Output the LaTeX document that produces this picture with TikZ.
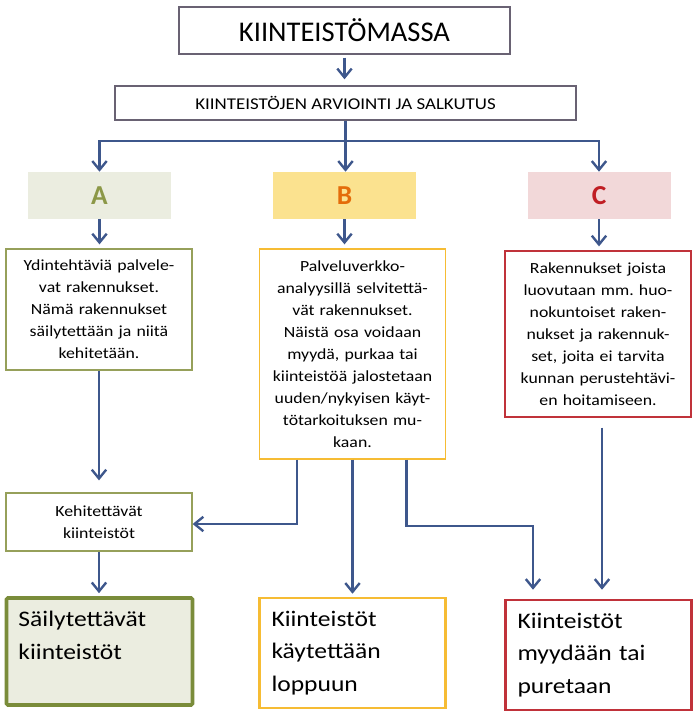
\documentclass[tikz,border=0pt]{standalone}
\usepackage{fontspec}
\setmainfont{Carlito}[FakeStretch=1.15]
\newfontfamily\headfont{Carlito}
\frenchspacing
\usetikzlibrary{arrows.meta,positioning}

\definecolor{flowblue}{RGB}{62,87,140}
\definecolor{framegray}{RGB}{105,98,115}
\definecolor{olivefill}{RGB}{235,237,224}
\definecolor{oliveline}{RGB}{150,160,90}
\definecolor{olivedark}{RGB}{122,140,58}
\definecolor{oliveletter}{RGB}{140,152,72}
\definecolor{goldfill}{RGB}{251,226,143}
\definecolor{goldline}{RGB}{246,188,52}
\definecolor{orangeletter}{RGB}{228,108,10}
\definecolor{rosefill}{RGB}{242,216,217}
\definecolor{redline}{RGB}{192,50,58}
\definecolor{redletter}{RGB}{192,30,36}

\begin{document}
\begin{tikzpicture}[
    topbox/.style={draw=framegray, line width=1pt, align=center},
    letterbox/.style={minimum width=3.575cm, minimum height=1.175cm, font=\headfont\fontsize{19.5}{22}\selectfont\bfseries},
    textbox/.style={line width=0.9pt, minimum width=4.65cm, inner xsep=0.15cm, text width=4.35cm, align=center, font=\fontsize{11}{15.65}\selectfont},
    endbox/.style={line width=1.8pt, minimum width=4.65cm, inner xsep=0.3cm, text width=4.05cm, align=left, font=\fontsize{15.8}{23.1}\selectfont},
    flow/.style={draw=flowblue, line width=1.7pt, -{Straight Barb[length=2.2mm,width=3.6mm]}}
]
    \useasboundingbox (0,0) rectangle (17.475,-17.85);

    % Top of the chart
    \node[topbox, minimum width=8.275cm, minimum height=1.175cm, font=\headfont\fontsize{20.3}{22}\selectfont] (mass) at (8.6125,-0.7625) {KIINTEISTÖMASSA};
    \node[topbox, minimum width=11.525cm, minimum height=0.85cm, font=\fontsize{11.7}{14}\selectfont] (eval) at (8.6375,-2.575) {KIINTEISTÖJEN ARVIOINTI JA SALKUTUS};

    % Classes A, B, C
    \node[letterbox, fill=olivefill, text=oliveletter] (labA) at (2.4875,-4.8875) {A};
    \node[letterbox, fill=goldfill, text=orangeletter] (labB) at (8.6125,-4.8875) {B};
    \node[letterbox, fill=rosefill, text=redletter] (labC) at (14.975,-4.8875) {C};

    % Descriptions
    \node[textbox, draw=oliveline, minimum height=3.025cm] (txtA) at (2.475,-7.7375)
        {Ydintehtäviä palvele-\\vat rakennukset.\\Nämä rakennukset\\säilytettään ja niitä\\kehitetään.};
    \node[textbox, draw=goldline, minimum height=5.25cm] (txtB) at (8.8125,-8.85)
        {Palveluverkko-\\analyysillä selvitettä-\\vät rakennukset.\\Näistä osa voidaan\\myydä, purkaa tai\\kiinteistöä jalostetaan\\uuden/nykyisen käyt-\\tötarkoituksen mu-\\kaan.};
    \node[textbox, draw=redline, minimum height=4.15cm] (txtC) at (14.95,-8.35)
        {Rakennukset joista\\luovutaan mm. huo-\\nokuntoiset raken-\\nukset ja rakennuk-\\set, joita ei tarvita\\kunnan perustehtävi-\\en hoitamiseen.};

    \node[textbox, draw=oliveline, minimum height=1.45cm] (kehit) at (2.475,-13.05) {Kehitettävät\\kiinteistöt};

    % Results
    \node[endbox, draw=olivedark, fill=olivefill, line width=2.6pt, rounded corners=1pt, minimum height=2.675cm] (keep) at (2.4875,-16.2875)
        {Säilytettävät\\kiinteistöt\\\mbox{}};
    \node[endbox, draw=goldline, minimum height=2.75cm] (use) at (8.8125,-16.325)
        {Kiinteistöt\\käytettään\\loppuun};
    \node[endbox, draw=redline, minimum height=2.75cm] (sell) at (14.9625,-16.375)
        {Kiinteistöt\\myydään tai\\puretaan};

    % Connectors
    \draw[flow, shorten <=2pt, shorten >=0.15cm] (mass.south) -- (mass.south |- eval.north);
    \coordinate (split) at ([yshift=-0.5cm]eval.south);
    \draw[flow] (eval.south) -- (eval.south |- labB.north);
    \draw[flow] (split) -| (labA.north);
    \draw[flow] (split) -| (labC.north);

    \draw[flow, shorten >=0.1cm] (labA.south) -- (labA.south |- txtA.north);
    \draw[flow, shorten >=0.1cm] (labB.south) -- (labB.south |- txtB.north);
    \draw[flow, shorten >=0.1cm] (labC.south) -- (labC.south |- txtC.north);

    \draw[flow, shorten >=0.3cm] (txtA.south) -- (kehit.north);
    \draw[flow, shorten >=0.075cm] (kehit.south) -- (kehit.south |- keep.north);

    \coordinate (bend) at (13.325,-13.15);
    \draw[flow] ([xshift=-1.3875cm]txtB.south) |- ([yshift=-0.05cm]kehit.east);
    \draw[flow, shorten >=0.075cm] (txtB.south) -- (use.north);
    \draw[flow, shorten >=0.225cm] ([xshift=1.35cm]txtB.south) |- (bend) -- (bend |- sell.north);
    \draw[flow, shorten <=0.25cm, shorten >=0.225cm] ([xshift=0.1cm]txtC.south) -- ([xshift=0.1cm]txtC.south |- sell.north);

\end{tikzpicture}
\end{document}
